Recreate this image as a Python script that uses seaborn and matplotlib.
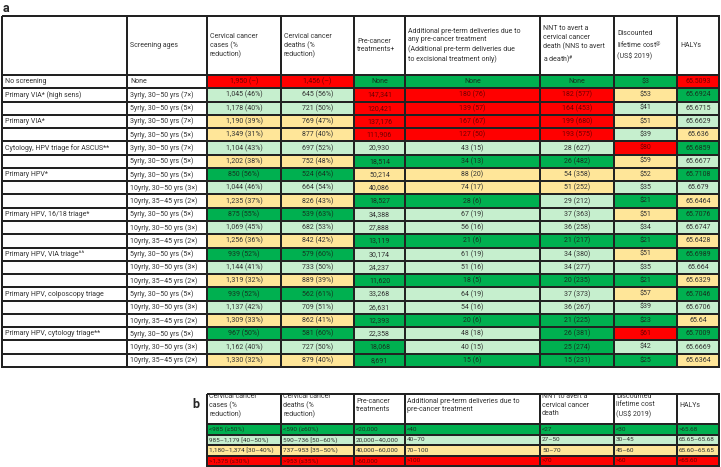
import numpy as np
import matplotlib.pyplot as plt
from matplotlib.colors import ListedColormap
import seaborn as sns

# ---- table a : strategies ----
methods = ["No screening", "Primary VIA* (high sens)", "", "Primary VIA*", "",
           "Cytology, HPV triage for ASCUS**", "", "Primary HPV*", "", "",
           "Primary HPV, 16/18 triage*", "", "", "Primary HPV, VIA triage^^", "", "",
           "Primary HPV, colposcopy triage", "", "", "Primary HPV, cytology triage**", "", ""]
ages = ["None",
        "3yrly, 30–50 yrs (7×)", "5yrly, 30–50 yrs (5×)",
        "3yrly, 30–50 yrs (7×)", "5yrly, 30–50 yrs (5×)",
        "3yrly, 30–50 yrs (7×)", "5yrly, 30–50 yrs (5×)"] + \
       ["5yrly, 30–50 yrs (5×)", "10yrly, 30–50 yrs (3×)", "10yrly, 35–45 yrs (2×)"] * 5

cases = ["1,950 (–)", "1,045 (46%)", "1,178 (40%)", "1,190 (39%)", "1,349 (31%)", "1,104 (43%)",
         "1,202 (38%)", "850 (56%)", "1,044 (46%)", "1,235 (37%)", "875 (55%)", "1,069 (45%)",
         "1,256 (36%)", "939 (52%)", "1,144 (41%)", "1,319 (32%)", "939 (52%)", "1,137 (42%)",
         "1,309 (33%)", "967 (50%)", "1,162 (40%)", "1,330 (32%)"]
deaths = ["1,456 (–)", "645 (56%)", "721 (50%)", "769 (47%)", "877 (40%)", "697 (52%)",
          "752 (48%)", "524 (64%)", "664 (54%)", "826 (43%)", "539 (63%)", "682 (53%)",
          "842 (42%)", "579 (60%)", "733 (50%)", "889 (39%)", "562 (61%)", "709 (51%)",
          "862 (41%)", "581 (60%)", "727 (50%)", "879 (40%)"]
precancer = ["None", "147,341", "120,421", "137,176", "111,906", "20,930", "18,514", "50,214",
             "40,086", "18,527", "34,388", "27,888", "13,119", "30,174", "24,237", "11,620",
             "33,268", "26,631", "12,393", "22,358", "18,068", "8,691"]
preterm = ["None", "180 (76)", "139 (57)", "167 (67)", "127 (50)", "43 (15)", "34 (13)", "88 (20)",
           "74 (17)", "28 (6)", "67 (19)", "56 (16)", "21 (6)", "61 (19)", "51 (16)", "18 (5)",
           "64 (19)", "54 (16)", "20 (6)", "48 (18)", "40 (15)", "15 (6)"]
nnt = ["None", "182 (577)", "164 (453)", "199 (680)", "193 (575)", "28 (627)", "26 (482)",
       "54 (358)", "51 (252)", "29 (212)", "37 (363)", "36 (258)", "21 (217)", "34 (380)",
       "34 (277)", "20 (235)", "37 (373)", "36 (267)", "21 (225)", "26 (381)", "25 (274)",
       "15 (231)"]
cost = ["$3", "$53", "$41", "$51", "$39", "$80", "$59", "$52", "$35", "$21", "$51", "$34", "$21",
        "$51", "$35", "$21", "$57", "$39", "$23", "$61", "$42", "$25"]
halys = ["65.5093", "65.6924", "65.6715", "65.6629", "65.636", "65.6859", "65.6677", "65.7108",
         "65.679", "65.6464", "65.7076", "65.6747", "65.6428", "65.6989", "65.664", "65.6329",
         "65.7046", "65.6706", "65.64", "65.7009", "65.6669", "65.6364"]

# colour category per cell: G green, L light green, Y yellow, R red
cases_col = "RLLYYLYGLYGLYGLYGLYGLY"
deaths_col = "RLLYYLYGLYGLYGLYGLYGLY"
precancer_col = "GRRRRLGYYGLLGLLGLLGLGG"
preterm_col = "GRRRRLGYYGLLGLLGLLGLLG"
nnt_col = "GRRRRLGYYLLLGLLGLLGGGG"
cost_col = "GYLYLRYYLGYLGYLGYLGRLG"
halys_col = "RGLLYGLGLYGLYGLYGLYGLY"

headers_a = ["", "Screening ages", "Cervical cancer\ncases (%\nreduction)",
             "Cervical cancer\ndeaths (%\nreduction)", "Pre-cancer\ntreatments+",
             "Additional pre-term deliveries due to\nany pre-cancer treatment\n"
             "(Additional pre-term deliveries due\nto excisional treatment only)",
             "NNT to avert a\ncervical cancer\ndeath (NNS to avert\na death)$^{\\#}$",
             "Discounted\nlifetime cost$^{@}$\n(US$ 2019)", "HALYs"]

# ---- table b : colour key ----
headers_b = ["Cervical cancer\ncases (%\nreduction)", "Cervical cancer\ndeaths (%\nreduction)",
             "Pre-cancer\ntreatments",
             "Additional pre-term deliveries due to\npre-cancer treatment",
             "NNT to avert a\ncervical cancer\ndeath", "Discounted\nlifetime cost\n(US$ 2019)",
             "HALYs"]
key_cases = ["<985 (≥50%)", "985–1,179 [40–50%)", "1,180–1,374 [30–40%)", ">1,375 (≤30%)"]
key_deaths = ["<590 (≥60%)", "590–736 [50–60%)", "737–953 [35–50%)", ">953 (≤35%)"]
key_precancer = ["<20,000", "20,000–40,000", "40,000–60,000", ">60,000"]
key_preterm = ["<40", "40–70", "70–100", ">100"]
key_nnt = ["<27", "27–50", "50–70", ">70"]
key_cost = ["<30", "30–45", "45–60", ">60"]
key_halys = [">65.68", "65.65–65.68", "65.60–65.65", "<65.60"]
key_col = "GLYR"

# ---- styling ----
CODES = "WGLYR"
cmap = ListedColormap(["#ffffff", "#00b050", "#c6efce", "#ffe699", "#ff0000"])
TEXT_COL = {"W": "#333333", "G": "#163320", "L": "#333333", "Y": "#333333", "R": "#700000"}
LINE = "#222222"
W, H = 721, 467

sns.set_theme(style="white")
plt.rcParams["font.family"] = ["Roboto", "DejaVu Sans"]
plt.rcParams["mathtext.default"] = "regular"

fig = plt.figure(figsize=(W / 100, H / 100), dpi=100)


def add_ax(x0, y0, x1, y1):
    return fig.add_axes([x0 / W, 1 - y1 / H, (x1 - x0) / W, (y1 - y0) / H])


def draw_column(x0, x1, y0, y1, texts, codes, align="center", fs=5.0, ty=0.5, pad=3):
    ax = add_ax(x0, y0, x1, y1)
    vals = np.array([[CODES.index(c)] for c in codes])
    sns.heatmap(vals, ax=ax, cmap=cmap, vmin=-0.5, vmax=4.5, cbar=False,
                linewidths=1.3, linecolor=LINE, xticklabels=False, yticklabels=False)
    ax.collections[0].set_clip_on(False)
    ax.set_xlabel("")
    ax.set_ylabel("")
    for i, (t, c) in enumerate(zip(texts, codes)):
        if align == "left":
            ax.text(pad / (x1 - x0), i + ty, t, ha="left", va="center", fontsize=fs,
                    color=TEXT_COL[c], linespacing=1.3)
        else:
            ax.text(0.5, i + ty, t, ha="center", va="center", fontsize=fs,
                    color=TEXT_COL[c], linespacing=1.3)
    return ax


# column edges in pixels
xs = [2, 127, 207, 281, 354, 405, 540, 614, 677, 719]

# 1. table a
fig.text(3 / W, 1 - 8 / H, "a", fontsize=9, fontweight="bold", va="center", ha="left")
body_a = [(methods, "W" * 22), (ages, "W" * 22), (cases, cases_col), (deaths, deaths_col),
          (precancer, precancer_col), (preterm, preterm_col), (nnt, nnt_col),
          (cost, cost_col), (halys, halys_col)]
for j in range(9):
    draw_column(xs[j], xs[j + 1], 16, 75, [headers_a[j]], "W", align="left", fs=5.0)
    texts, codes = body_a[j]
    draw_column(xs[j], xs[j + 1], 75, 367, texts, codes,
                align="left" if j < 2 else "center", fs=5.0)

# 2. table b
fig.text(192 / W, 1 - 404 / H, "b", fontsize=9, fontweight="bold", va="center", ha="left")
body_b = [key_cases, key_deaths, key_precancer, key_preterm, key_nnt, key_cost, key_halys]
for j in range(7):
    x0, x1 = xs[j + 2], xs[j + 3]
    draw_column(x0, x1, 394, 424, [headers_b[j]], "W", align="left", fs=5.0, ty=0.38, pad=2)
    draw_column(x0, x1, 424, 466, body_b[j], key_col, align="left", fs=4.6, pad=2)

fig.savefig("out.png", dpi=100)
